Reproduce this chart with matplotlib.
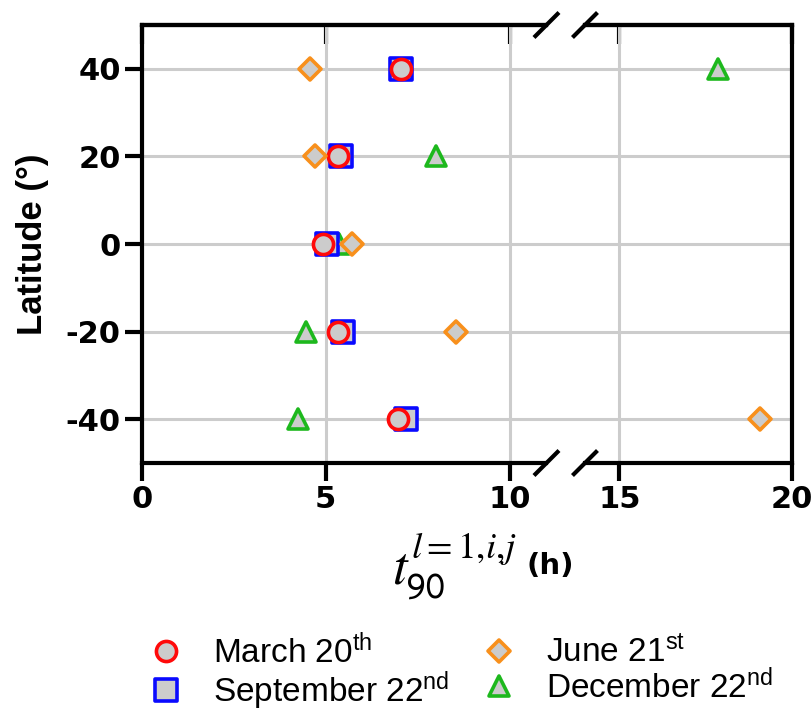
import matplotlib
matplotlib.use('Agg')
import matplotlib.pyplot as plt
from matplotlib.markers import MarkerStyle

plt.rcParams['mathtext.fontset'] = 'custom'
plt.rcParams['mathtext.rm'] = 'Liberation Sans'
plt.rcParams['mathtext.it'] = 'Liberation Sans:italic'
plt.rcParams['mathtext.bf'] = 'Liberation Sans:bold'
plt.rcParams['axes.unicode_minus'] = False

# t90 (h) for each latitude and date
latitude = [40, 20, 0, -20, -40]
march = [7.05, 5.34, 4.94, 5.34, 6.97]
june = [4.58, 4.71, 5.71, 8.54, 19.07]
september = [7.05, 5.42, 5.03, 5.46, 7.17]
december = [17.86, 8.0, 5.35, 4.46, 4.26]

left_ticks = [0, 5, 10]
right_ticks = [15, 20]
lat_ticks = [-40, -20, 0, 20, 40]

face = '#cccccc'
# drawing order: december at the back, june on top
series = [
    (december, r'December 22$^{\mathrm{nd}}$', '^', 14.5, '#1db81d'),
    (september, r'September 22$^{\mathrm{nd}}$', 's', 16.5, '#0a0aff'),
    (march, r'March 20$^{\mathrm{th}}$', 'o', 14.5, '#ff0a0a'),
    (june, r'June 21$^{\mathrm{st}}$', 'D', 11, '#f8901c'),
]

fig = plt.figure(figsize=(8.12, 7.12), dpi=100)
# background axes carrying the horizontal grid across the break
bg = fig.add_axes([0.1745, 0.3497, 0.8008, 0.6152], zorder=0)
bg.set_ylim(-50, 50)
bg.set_yticks(lat_ticks)
bg.set_xticks([])
bg.grid(True, axis='y', color='#cccccc', lw=2.2)
bg.tick_params(left=False, labelleft=False)
for s in bg.spines.values():
    s.set_visible(False)

ax1 = fig.add_axes([0.1745, 0.3497, 0.4985, 0.6152], zorder=1)
ax2 = fig.add_axes([0.7204, 0.3497, 0.2549, 0.6152], sharey=ax1, zorder=1)

handles = {}
for ax in (ax1, ax2):
    ax.patch.set_visible(False)
    for i, (vals, lab, mk, ms, col) in enumerate(series):
        h, = ax.plot(vals, latitude, ls='none',
                     marker=MarkerStyle(mk, joinstyle='round'),
                     ms=ms, mfc=face, mec=col, mew=2.6, zorder=3 + i)
        handles[lab] = h

ax1.set_xlim(0, 11)
ax2.set_xlim(14, 20)
ax1.set_ylim(-50, 50)
ax1.set_xticks(left_ticks)
ax2.set_xticks(right_ticks)
ax1.set_yticks(lat_ticks)

lw = 3.0
for ax in (ax1, ax2):
    ax.set_axisbelow(True)
    ax.grid(True, axis='x', color='#cccccc', lw=2.2)
    for s in ax.spines.values():
        s.set_linewidth(lw)
    ax.tick_params(axis='x', direction='out', length=13, width=lw, pad=3,
                   labelsize=22)
    ax.tick_params(axis='y', direction='out', length=12, width=lw, pad=3,
                   labelsize=22)
    for t in ax.get_xticklabels() + ax.get_yticklabels():
        t.set_fontweight('bold')
    # inward ticks along the top edge
    sec = ax.secondary_xaxis('top')
    sec.set_xticks(ax.get_xticks())
    sec.tick_params(direction='in', length=14, width=lw, labeltop=False)
    sec.spines['top'].set_linewidth(lw)

ax1.spines['right'].set_visible(False)
ax2.spines['left'].set_visible(False)
ax2.tick_params(axis='y', left=False, labelleft=False)

# break marks on both sides of the gap
for ax, xe in ((ax1, 1.0), (ax2, 0.0)):
    w = ax.get_window_extent().width
    h = ax.get_window_extent().height
    dx, dy = 12.5 / w, 12.5 / h
    for ye in (0.0, 1.0):
        ax.plot([xe - dx, xe + dx], [ye - dy, ye + dy], color='black',
                lw=lw, transform=ax.transAxes, clip_on=False,
                solid_capstyle='butt', zorder=10)

ax1.set_ylabel('Latitude (°)', family='Liberation Sans', fontsize=25,
               fontweight='bold', labelpad=12)

fig.text(392 / 812, 1 - 585 / 712, r'$t_{\mathsf{90}}^{l{=}1{,}i{,}j}$',
         fontsize=38, math_fontfamily='stix', ha='left', va='baseline')
fig.text(527 / 812, 1 - 574 / 712, '(h)', fontsize=21, fontweight='bold',
         ha='left', va='baseline')

order = [r'March 20$^{\mathrm{th}}$', r'September 22$^{\mathrm{nd}}$',
         r'June 21$^{\mathrm{st}}$', r'December 22$^{\mathrm{nd}}$']
leg = fig.legend([handles[k] for k in order], order, ncol=2,
                 loc='upper left', bbox_to_anchor=(145 / 812, 1 - 634 / 712),
                 frameon=False, prop={'family': 'Liberation Sans', 'size': 24},
                 handlelength=1.25, handletextpad=0.8, columnspacing=0.85,
                 labelspacing=-0.02, borderpad=0, borderaxespad=0)

fig.savefig('out.png', dpi=100)
